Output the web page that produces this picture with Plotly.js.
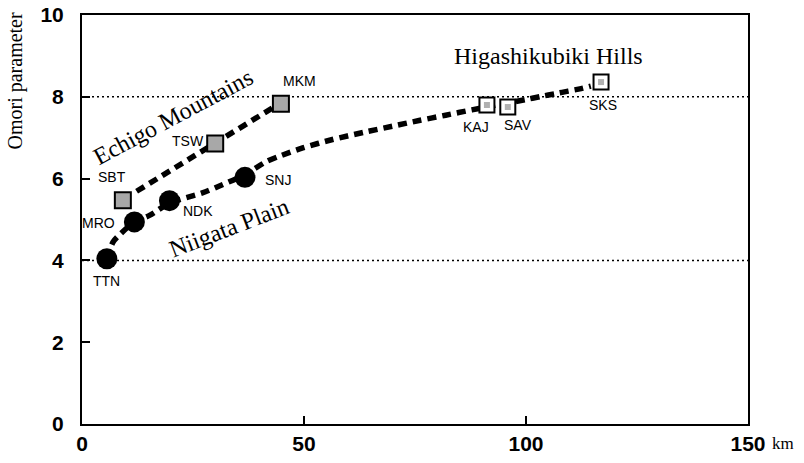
<!DOCTYPE html>
<html>
<head>
<meta charset="utf-8">
<script src="https://cdn.plot.ly/plotly-3.0.1.min.js"></script>
<style>html,body{margin:0;padding:0;background:#fff;}#chart{width:804px;height:463px;}</style>
</head>
<body>
<div id="chart"></div>
<script>
// Niigata Plain stations (filled circles)
const plainNames = ['TTN', 'MRO', 'NDK', 'SNJ'];
const plainKm = [5.6, 11.8, 19.7, 36.7];
const plainOmori = [4.04, 4.94, 5.46, 6.03];

// Echigo Mountains stations (shaded squares)
const mountNames = ['SBT', 'TSW', 'MKM'];
const mountKm = [9.2, 30.0, 44.8];
const mountOmori = [5.47, 6.86, 7.83];

// Higashikubiki Hills stations (open squares)
const hillNames = ['KAJ', 'SAV', 'SKS'];
const hillKm = [91.2, 95.9, 116.9];
const hillOmori = [7.80, 7.75, 8.36];

// Dashed trend curves
const plainCurveKm = [5.6, 7.0, 8.7, 11.8, 15.2, 19.7, 27.1, 31.6, 36.7, 41.6, 45.0, 49.7, 56.2, 63.4, 69.9, 75.9, 81.9, 87.8, 93.5, 99.9, 103.4, 106.8, 109.5, 112.4, 114.6];
const plainCurveOmori = [4.04, 4.45, 4.65, 4.94, 5.10, 5.40, 5.65, 5.85, 6.10, 6.42, 6.57, 6.75, 6.95, 7.13, 7.28, 7.42, 7.55, 7.68, 7.80, 7.93, 8.01, 8.08, 8.14, 8.20, 8.26];
const mountCurveKm = [12.3, 44.0];
const mountCurveOmori = [5.69, 7.80];

// Reference levels
const refLevels = [8, 4];

const xTicks = [0, 50, 100, 150];
const yTicks = [0, 2, 4, 6, 8, 10];

// Label offsets (pixels)
const labelShift = {
  TTN: [0, -22], MRO: [-36, -1], NDK: [29, -10], SNJ: [33, -3],
  SBT: [-11, 23], TSW: [-27, 2], MKM: [19, 23],
  KAJ: [-11, -22], SAV: [10, -18], SKS: [2, -23]
};

const dashLine = {color: '#000', width: 5.5, dash: '9px,6px'};
const traces = [
  {x: plainCurveKm, y: plainCurveOmori, mode: 'lines', line: Object.assign({shape: 'spline', smoothing: 0.8}, dashLine), hoverinfo: 'skip'},
  {x: mountCurveKm, y: mountCurveOmori, mode: 'lines', line: dashLine, hoverinfo: 'skip'},
  {x: plainKm, y: plainOmori, mode: 'markers', marker: {symbol: 'circle', size: 21, color: '#000'}},
  {x: mountKm, y: mountOmori, mode: 'markers', marker: {symbol: 'square', size: 16, color: '#a8a8a8', line: {color: '#000', width: 2}}},
  {x: hillKm, y: hillOmori, mode: 'markers', marker: {symbol: 'square', size: 15, color: '#fff', line: {color: '#000', width: 2}}},
  {x: hillKm, y: hillOmori, mode: 'markers', marker: {symbol: 'square', size: 6, color: '#b0b0b0'}}
];

const annotations = [];
function addLabels(names, xs, ys) {
  names.forEach((n, i) => {
    annotations.push({
      x: xs[i], y: ys[i], xref: 'x', yref: 'y', text: n, showarrow: false,
      xshift: labelShift[n][0], yshift: labelShift[n][1],
      font: {family: 'Liberation Sans, Arial, sans-serif', size: 14, color: '#000'}
    });
  });
}
addLabels(plainNames, plainKm, plainOmori);
addLabels(mountNames, mountKm, mountOmori);
addLabels(hillNames, hillKm, hillOmori);

const serif = 'Liberation Serif, Times New Roman, serif';
annotations.push(
  {x: 20.5, y: 7.5, xref: 'x', yref: 'y', text: 'Echigo Mountains', showarrow: false, textangle: -28,
   font: {family: serif, size: 24, color: '#000'}},
  {x: 33.0, y: 4.8, xref: 'x', yref: 'y', text: 'Niigata Plain', showarrow: false, textangle: -21,
   font: {family: serif, size: 24, color: '#000'}},
  {x: 105, y: 9.0, xref: 'x', yref: 'y', text: 'Higashikubiki Hills', showarrow: false,
   font: {family: serif, size: 24, color: '#000'}},
  {x: 1, y: 0, xref: 'paper', yref: 'paper', xanchor: 'left', yanchor: 'top', xshift: 22, yshift: -8,
   text: 'km', showarrow: false, font: {family: serif, size: 17, color: '#000'}},
  {x: 0, y: 1, xref: 'paper', yref: 'paper', xanchor: 'center', yanchor: 'top', xshift: -67, yshift: 4,
   text: 'Omori parameter', textangle: -90, showarrow: false, font: {family: serif, size: 20, color: '#000'}}
);

const shapes = refLevels.map(v => ({
  type: 'line', xref: 'paper', yref: 'y', x0: 0, x1: 1, y0: v, y1: v,
  line: {color: '#000', width: 1.5, dash: '2px,3px'}, layer: 'below'
}));

const tickFont = {family: 'Liberation Sans, Arial, sans-serif', size: 21, color: '#000', weight: 'bold'};

const layout = {
  width: 804, height: 463,
  margin: {l: 82, r: 56, t: 15, b: 39},
  paper_bgcolor: '#fff', plot_bgcolor: '#fff',
  showlegend: false,
  xaxis: {
    range: [0, 150], tickvals: xTicks, ticktext: xTicks.map(String),
    showgrid: false, zeroline: false, showline: true, linecolor: '#000', linewidth: 2, mirror: true,
    ticks: 'inside', ticklen: 8, tickwidth: 2, tickcolor: '#000', tickfont: tickFont
  },
  yaxis: {
    range: [0, 10], tickvals: yTicks, ticktext: yTicks.map(String),
    showgrid: false, zeroline: false, showline: true, linecolor: '#000', linewidth: 2, mirror: true,
    ticks: 'inside', ticklen: 8, tickwidth: 2, tickcolor: '#000', tickfont: tickFont,
    ticklabelstandoff: 12
  },
  shapes: shapes,
  annotations: annotations
};

Plotly.newPlot('chart', traces, layout, {displayModeBar: false, staticPlot: true});
</script>
</body>
</html>
